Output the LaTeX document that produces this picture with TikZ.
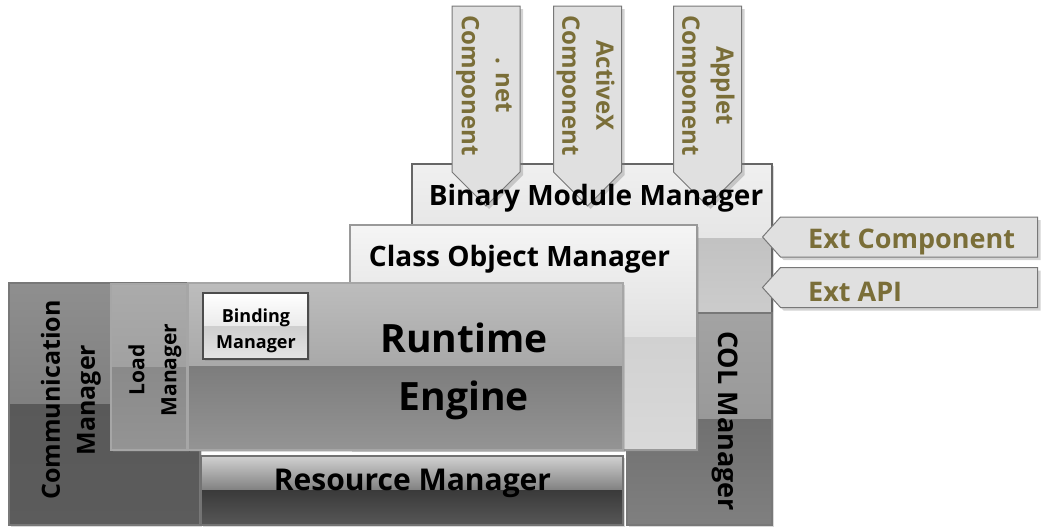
\documentclass[tikz,border=0pt]{standalone}
\usepackage{fontspec}
\setmainfont{Open Sans}
\usetikzlibrary{shapes.symbols, shadows, calc, positioning}

\definecolor{olivetxt}{RGB}{122,110,56}
\definecolor{edgegray}{RGB}{120,120,120}

\tikzset{
  gloss/.style n args={4}{path picture={
      \coordinate (gnw) at (path picture bounding box.north west);
      \coordinate (gse) at (path picture bounding box.south east);
      \coordinate (gmid) at ($(gnw)!0.5!(gse)$);
      \shade[top color=#1, bottom color=#2] (gnw) rectangle (gse |- gmid);
      \shade[top color=#3, bottom color=#4] (gnw |- gmid) rectangle (gse);
  }},
  blk/.style={draw=edgegray, line width=1.2pt, inner sep=0pt,
    drop shadow={shadow xshift=2pt, shadow yshift=-2pt, opacity=0.3}},
  comp/.style={signal, signal to=south, signal pointer angle=90,
    draw=edgegray, line width=1pt, fill=black!12, inner sep=0pt,
    minimum width=68pt, minimum height=166pt,
    drop shadow={shadow xshift=3pt, shadow yshift=-3pt, opacity=0.35}},
  ext/.style={signal, signal to=west, signal pointer angle=96,
    draw=edgegray, line width=1pt, fill=black!12, inner sep=0pt,
    minimum width=275pt, minimum height=40pt,
    drop shadow={shadow xshift=3pt, shadow yshift=-3pt, opacity=0.35}},
  lbl/.style={inner sep=0pt, text=black},
  olive/.style={inner sep=0pt, text=olivetxt}
}

\begin{document}
\begin{tikzpicture}[x=1pt, y=-1pt]
  \useasboundingbox (0,0) rectangle (1048,530);

  \node[blk, draw=black!60, gloss={black!6}{black!10}{black!24}{black!20},
        minimum width=360pt, minimum height=149pt] (binary) at (592,238.5) {};
  \node[blk, gloss={black!36}{black!40}{black!56}{black!50},
        minimum width=145pt, minimum height=212pt] (col) at (699.5,419) {};

  \node[comp] (netarrow) at (486,89) {};
  \node[comp] (activexarrow) at (587.5,89) {};
  \node[comp] (appletarrow) at (707.5,89) {};
  \node[olive, rotate=-90, align=center, font=\bfseries\fontsize{24}{34}\selectfont]
    (netlbl) at (484,85.5) {. net\\Component};
  \node[olive, rotate=-90, align=center, font=\bfseries\fontsize{24}{34}\selectfont]
    (activexlbl) at (585.5,85.5) {ActiveX\\Component};
  \node[olive, rotate=-90, align=center, font=\bfseries\fontsize{24}{34}\selectfont]
    (appletlbl) at (705.5,85.5) {Applet\\Component};

  \node[ext] (extcomp) at (909,237) {};
  \node[ext] (extapi) at (909,287.5) {};
  \node[olive, anchor=base west, font=\bfseries\fontsize{27}{32}\selectfont]
    (extcomplbl) at (808,248) {Ext Component};
  \node[olive, anchor=base west, font=\bfseries\fontsize{27}{32}\selectfont]
    (extapilbl) at (808,301) {Ext API};

  \node[blk, draw=black!40, gloss={black!4}{black!12}{black!18}{black!15},
        minimum width=347pt, minimum height=225pt] (classobj) at (523.5,337.5) {};

  \node[blk, gloss={black!44}{black!50}{black!65}{black!64},
        minimum width=191pt, minimum height=242pt] (commmgr) at (104.5,404) {};
  \node[blk, draw=black!35, gloss={black!33}{black!37}{black!46}{black!42},
        minimum width=76pt, minimum height=166pt] (loadmgr) at (149,367) {};
  \node[blk, draw=black!35, gloss={black!26}{black!34}{black!51}{black!42},
        minimum width=435pt, minimum height=167pt] (runtime) at (405.5,366.5) {};
  \node[blk, draw=black!55, gloss={black!18}{black!50}{black!77}{black!66},
        minimum width=422pt, minimum height=69pt] (resource) at (412,490.5) {};
  \node[blk, draw=black!70, line width=1.6pt, gloss={white}{black!8}{black!19}{black!11},
        minimum width=105pt, minimum height=66pt] (binding) at (255.5,326) {};

  \node[lbl, anchor=base, font=\bfseries\fontsize{28}{34}\selectfont]
    (binarylbl) at (596,205) {Binary Module Manager};
  \node[lbl, anchor=base, font=\bfseries\fontsize{28}{34}\selectfont]
    (classobjlbl) at (519.5,266) {Class Object Manager};
  \node[lbl, rotate=-90, font=\bfseries\fontsize{27}{32}\selectfont]
    (collbl) at (725,421) {COL Manager};
  \node[lbl, rotate=90, align=center, font=\bfseries\fontsize{25}{35}\selectfont]
    (commlbl) at (71,400) {Communication\\Manager};
  \node[lbl, rotate=90, align=center, font=\bfseries\fontsize{21}{32}\selectfont]
    (loadlbl) at (155,370) {Load\\Manager};
  \node[lbl, align=center, font=\bfseries\fontsize{39}{58}\selectfont]
    (runtimelbl) at (464,371) {Runtime\\Engine};
  \node[lbl, anchor=base, font=\bfseries\fontsize{30}{34}\selectfont]
    (resourcelbl) at (412.5,490) {Resource Manager};
  \node[lbl, align=center, font=\bfseries\fontsize{18}{26}\selectfont]
    (bindinglbl) at (256,331) {Binding\\Manager};
\end{tikzpicture}
\end{document}
